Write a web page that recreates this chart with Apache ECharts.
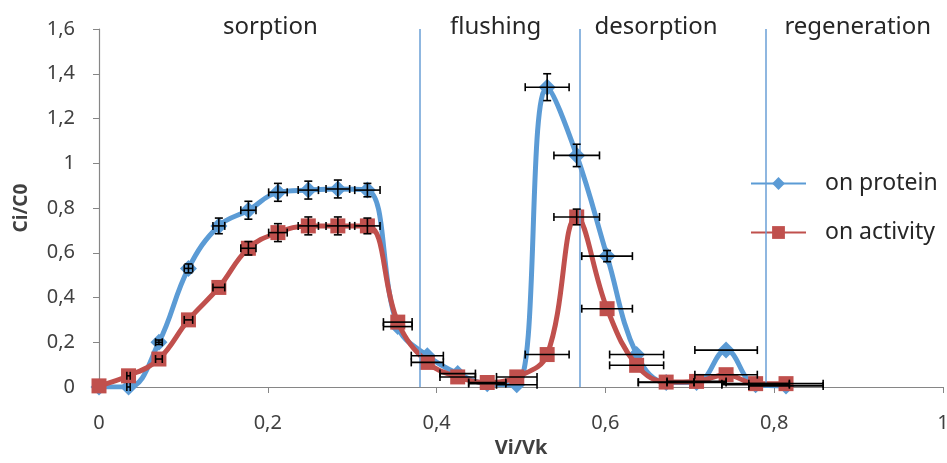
<!DOCTYPE html>
<html>
<head>
<meta charset="utf-8">
<script src="https://cdn.jsdelivr.net/npm/echarts@6/dist/echarts.min.js"></script>
<style>
  html, body { margin: 0; padding: 0; background: #ffffff; }
  #chart { width: 947px; height: 463px; }
</style>
</head>
<body>
<div id="chart"></div>
<script>
// Eluted volume fraction for each sample
const xValues = [0, 0.035, 0.071, 0.106, 0.142, 0.177, 0.212, 0.248, 0.283, 0.318,
  0.354, 0.389, 0.425, 0.460, 0.495, 0.531, 0.566, 0.602, 0.637, 0.672,
  0.708, 0.743, 0.778, 0.814];

// Relative concentration Ci/C0 measured on protein
const proteinValues = [0, 0, 0.20, 0.53, 0.72, 0.79, 0.87, 0.88, 0.885, 0.88,
  0.27, 0.14, 0.06, 0.015, 0.01, 1.34, 1.035, 0.585, 0.145, 0.02,
  0.02, 0.165, 0.01, 0.005];

// Relative concentration Ci/C0 measured on activity
const activityValues = [0.005, 0.05, 0.125, 0.30, 0.445, 0.62, 0.69, 0.72, 0.72, 0.72,
  0.29, 0.11, 0.045, 0.02, 0.045, 0.145, 0.76, 0.35, 0.097, 0.022,
  0.025, 0.055, 0.015, 0.015];

// Uncertainty of Vi/Vk (horizontal bars)
const xErrors = [0, 0.002, 0.004, 0.005, 0.007, 0.009, 0.011, 0.012, 0.014, 0.015,
  0.017, 0.019, 0.021, 0.022, 0.024, 0.026, 0.027, 0.030, 0.032, 0.033,
  0.035, 0.037, 0.040, 0.044];

// Uncertainty of Ci/C0 (vertical bars)
const proteinYErrors = [0, 0, 0.01, 0.02, 0.035, 0.04, 0.04, 0.04, 0.04, 0.03,
  0, 0, 0, 0, 0, 0.06, 0.05, 0.025, 0, 0,
  0, 0, 0, 0];
const activityYErrors = [0, 0, 0, 0, 0, 0.03, 0.04, 0.04, 0.04, 0.035,
  0, 0, 0, 0, 0, 0, 0.035, 0, 0, 0,
  0, 0, 0, 0];

// Process stages: boundaries and captions
const phaseBounds = [0.376, 0.571, 0.787];
const phaseNames = ['sorption', 'flushing', 'desorption', 'regeneration'];
const phaseLabelX = [0.203, 0.470, 0.660, 0.899];
const phaseLabelY = 1.6;

const seriesNames = ['on protein', 'on activity'];
const blue = '#5b9bd5';
const red = '#c0504d';
const textFont = 'Noto Sans';

const decimalComma = v => String(+v.toFixed(1)).replace('.', ',');

function errorRows(ys, yErr) {
  return xValues.map((x, i) => [x, ys[i], xErrors[i], yErr[i]]);
}

function renderErrorBar(params, api) {
  const x = api.value(0), y = api.value(1), xe = api.value(2), ye = api.value(3);
  const cap = 4;
  const style = { stroke: '#000', lineWidth: 1.6 };
  const children = [];
  if (xe > 0) {
    const a = api.coord([x - xe, y]);
    const b = api.coord([x + xe, y]);
    children.push({ type: 'line', shape: { x1: a[0], y1: a[1], x2: b[0], y2: b[1] }, style });
    children.push({ type: 'line', shape: { x1: a[0], y1: a[1] - cap, x2: a[0], y2: a[1] + cap }, style });
    children.push({ type: 'line', shape: { x1: b[0], y1: b[1] - cap, x2: b[0], y2: b[1] + cap }, style });
  }
  if (ye > 0) {
    const a = api.coord([x, y - ye]);
    const b = api.coord([x, y + ye]);
    children.push({ type: 'line', shape: { x1: a[0], y1: a[1], x2: b[0], y2: b[1] }, style });
    children.push({ type: 'line', shape: { x1: a[0] - cap, y1: a[1], x2: a[0] + cap, y2: a[1] }, style });
    children.push({ type: 'line', shape: { x1: b[0] - cap, y1: b[1], x2: b[0] + cap, y2: b[1] }, style });
  }
  return { type: 'group', children };
}

function renderPhaseLabel(params, api) {
  const p = api.coord([api.value(0), api.value(1)]);
  return {
    type: 'text',
    x: p[0],
    y: p[1] - 2,
    style: {
      text: phaseNames[params.dataIndex],
      fontFamily: textFont,
      fontSize: 24,
      fill: '#262626',
      align: 'center',
      verticalAlign: 'middle'
    }
  };
}

const chart = echarts.init(document.getElementById('chart'), null, { renderer: 'canvas' });

chart.setOption({
  animation: false,
  backgroundColor: '#ffffff',
  grid: { left: 99, right: 4, top: 29, bottom: 76, containLabel: false, outerBoundsMode: 'none' },
  legend: {
    orient: 'vertical',
    left: 745,
    top: 167,
    itemWidth: 55,
    itemHeight: 16,
    itemGap: 26,
    data: seriesNames,
    textStyle: { fontFamily: textFont, fontSize: 23, color: '#262626', padding: [0, 0, 0, 14] }
  },
  xAxis: {
    type: 'value',
    min: 0, max: 1, interval: 0.2,
    name: 'Vi/Vk',
    nameLocation: 'middle',
    nameGap: 50,
    nameTextStyle: { fontFamily: textFont, fontSize: 20, fontWeight: 'bold', color: '#404040' },
    axisLine: { lineStyle: { color: '#868686', width: 1.2 } },
    axisTick: { show: true, length: 6, lineStyle: { color: '#868686' } },
    axisLabel: { margin: 26, fontFamily: textFont, fontSize: 20, color: '#404040', formatter: decimalComma },
    splitLine: { show: false }
  },
  yAxis: {
    type: 'value',
    min: 0, max: 1.6, interval: 0.2,
    name: 'Ci/C0',
    nameLocation: 'middle',
    nameGap: 68,
    nameTextStyle: { fontFamily: textFont, fontSize: 19, fontWeight: 'bold', color: '#404040' },
    axisLine: { show: true, lineStyle: { color: '#868686', width: 1.2 } },
    axisTick: { show: true, length: 6, lineStyle: { color: '#868686' } },
    axisLabel: { margin: 24, fontFamily: textFont, fontSize: 20, color: '#404040', formatter: decimalComma },
    splitLine: { show: false }
  },
  series: [
    {
      // stage captions, with the stage boundaries as vertical rules
      type: 'custom',
      silent: true,
      clip: false,
      z: 1,
      renderItem: renderPhaseLabel,
      encode: { x: 0, y: 1 },
      data: phaseLabelX.map(x => [x, phaseLabelY]),
      markLine: {
        silent: true,
        symbol: 'none',
        label: { show: false },
        lineStyle: { color: '#6a9fd6', width: 1.5, type: 'solid' },
        data: phaseBounds.map(v => ({ xAxis: v }))
      }
    },
    {
      name: seriesNames[0],
      type: 'line',
      smooth: 0.4,
      z: 3,
      symbol: 'diamond',
      symbolSize: 17,
      showAllSymbol: true,
      itemStyle: { color: blue },
      lineStyle: { color: blue, width: 5 },
      data: xValues.map((x, i) => [x, proteinValues[i]])
    },
    {
      name: seriesNames[1],
      type: 'line',
      smooth: 0.4,
      z: 4,
      symbol: 'rect',
      symbolSize: 15,
      showAllSymbol: true,
      itemStyle: { color: red },
      lineStyle: { color: red, width: 5 },
      data: xValues.map((x, i) => [x, activityValues[i]])
    },
    {
      type: 'custom',
      z: 6,
      silent: true,
      renderItem: renderErrorBar,
      encode: { x: 0, y: 1 },
      data: errorRows(proteinValues, proteinYErrors)
    },
    {
      type: 'custom',
      z: 6,
      silent: true,
      renderItem: renderErrorBar,
      encode: { x: 0, y: 1 },
      data: errorRows(activityValues, activityYErrors)
    }
  ]
});
</script>
</body>
</html>
